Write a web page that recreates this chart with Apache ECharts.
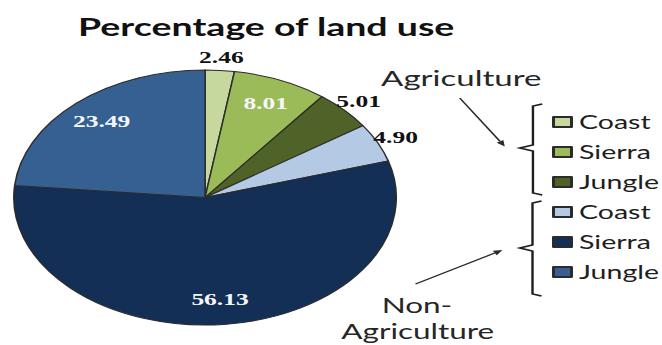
<!DOCTYPE html>
<html>
<head>
<meta charset="utf-8">
<title>Percentage of land use</title>
<script src="https://cdn.jsdelivr.net/npm/echarts@6/dist/echarts.min.js"></script>
<style>
  html, body { margin: 0; padding: 0; background: #ffffff; }
  #wrap { width: 662px; height: 345px; overflow: hidden; position: relative; }
  /* The chart is laid out in a narrower box and widened 1.5x, which turns the pie into an ellipse */
  #chart { width: 441.33px; height: 345px; transform: scaleX(1.5); transform-origin: 0 0; }
</style>
</head>
<body>
<div id="wrap"><div id="chart"></div></div>
<script>
// Land-use shares (%) by region, split into agricultural and non-agricultural land
const groups = ['Agriculture', 'Non-Agriculture'];
const regions = ['Coast', 'Sierra', 'Jungle'];
const agricultureValues = [2.46, 8.01, 5.01];
const nonAgricultureValues = [4.90, 56.13, 23.49];
const agricultureColors = ['#c6d89e', '#9bbb59', '#4f6228'];
const nonAgricultureColors = ['#b4c9e3', '#142f55', '#376092'];

const SEP = ' \u00b7 ';
const sliceData = [];
[agricultureValues, nonAgricultureValues].forEach((vals, g) => {
  const cols = g === 0 ? agricultureColors : nonAgricultureColors;
  vals.forEach((v, i) => {
    sliceData.push({ name: groups[g] + SEP + regions[i], value: v, itemStyle: { color: cols[i] } });
  });
});

// Small slices get their value written outside the pie
const isSmall = v => v < 6;

const center = [136.7, 197.5];
const pieRadius = 127.5;

const labelFont = { fontFamily: 'Liberation Serif', fontWeight: 'bold', fontSize: 17 };

function labelLayer(radius, showFor, color) {
  return {
    type: 'pie',
    center: center,
    radius: [0, radius],
    startAngle: 90,
    silent: true,
    z: 5,
    emphasis: { disabled: true },
    avoidLabelOverlap: false,
    itemStyle: { color: 'rgba(0,0,0,0)', borderWidth: 0 },
    labelLine: { show: false },
    data: sliceData.map(d => ({
      name: d.name,
      value: d.value,
      itemStyle: { color: 'rgba(0,0,0,0)' },
      label: {
        show: showFor(d.value),
        position: 'inside',
        color: color,
        formatter: p => p.value.toFixed(2),
        ...labelFont
      }
    }))
  };
}

function bracket(x, xTip, xNub, yTop, yMid, yBot) {
  return {
    type: 'polyline',
    shape: { points: [[xTip, yTop], [x, yTop + 2], [x, yMid - 3], [xNub, yMid], [x, yMid + 3], [x, yBot - 2], [xTip, yBot]] },
    style: { stroke: '#1e1e1e', lineWidth: 1.6, fill: null }
  };
}

function arrow(x1, y1, x2, y2) {
  const ang = Math.atan2(y2 - y1, x2 - x1);
  const len = 6, wid = 2.6;
  const bx = x2 - len * Math.cos(ang), by = y2 - len * Math.sin(ang);
  const nx = -Math.sin(ang) * wid, ny = Math.cos(ang) * wid;
  return [
    { type: 'line', shape: { x1: x1, y1: y1, x2: bx, y2: by }, style: { stroke: '#2a2a2a', lineWidth: 1.2 } },
    { type: 'polygon', shape: { points: [[x2, y2], [bx + nx, by + ny], [bx - nx, by - ny]] }, style: { fill: '#2a2a2a' } }
  ];
}

const textStyleNote = { fill: '#262626', fontFamily: 'Lato', fontSize: 22, textAlign: 'center', textVerticalAlign: 'middle' };

const chart = echarts.init(document.getElementById('chart'), null, { renderer: 'svg' });
chart.setOption({
  animation: false,
  backgroundColor: '#ffffff',
  title: {
    text: 'Percentage of land use',
    left: 52,
    top: 14,
    padding: 0,
    textStyle: { fontFamily: 'Lato', fontWeight: 'bold', fontSize: 25, color: '#111111' }
  },
  legend: {
    orient: 'vertical',
    left: 368,
    top: 112,
    padding: 0,
    itemWidth: 12,
    itemHeight: 10,
    itemGap: 10,
    selectedMode: false,
    icon: 'rect',
    data: sliceData.map(d => d.name),
    formatter: name => name.split(SEP)[1],
    textStyle: { fontFamily: 'Lato', fontSize: 19, color: '#1e1e1e', lineHeight: 20 }
  },
  series: [
    {
      type: 'pie',
      center: center,
      radius: [0, pieRadius],
      startAngle: 90,
      z: 2,
      emphasis: { disabled: true },
      label: { show: false },
      labelLine: { show: false },
      itemStyle: { borderColor: '#2b2b2b', borderWidth: 1 },
      data: sliceData
    },
    labelLayer(pieRadius * 1.56, v => !isSmall(v), '#f4f7fb'),
    labelLayer(pieRadius * 2.16, v => isSmall(v), '#111111')
  ],
  graphic: [
    bracket(355.3, 361.5, 346.5, 104, 148, 195),
    bracket(355.0, 361.0, 346.5, 201, 248, 296),
    ...arrow(306.5, 98, 336.5, 146.5),
    ...arrow(277, 284, 335, 250),
    { type: 'text', style: { text: 'Agriculture', x: 307.5, y: 77, ...textStyleNote } },
    { type: 'text', style: { text: 'Non-', x: 278, y: 305, ...textStyleNote, fontSize: 21 } },
    { type: 'text', style: { text: 'Agriculture', x: 278.5, y: 331, ...textStyleNote, fontSize: 21 } }
  ]
});
</script>
</body>
</html>
